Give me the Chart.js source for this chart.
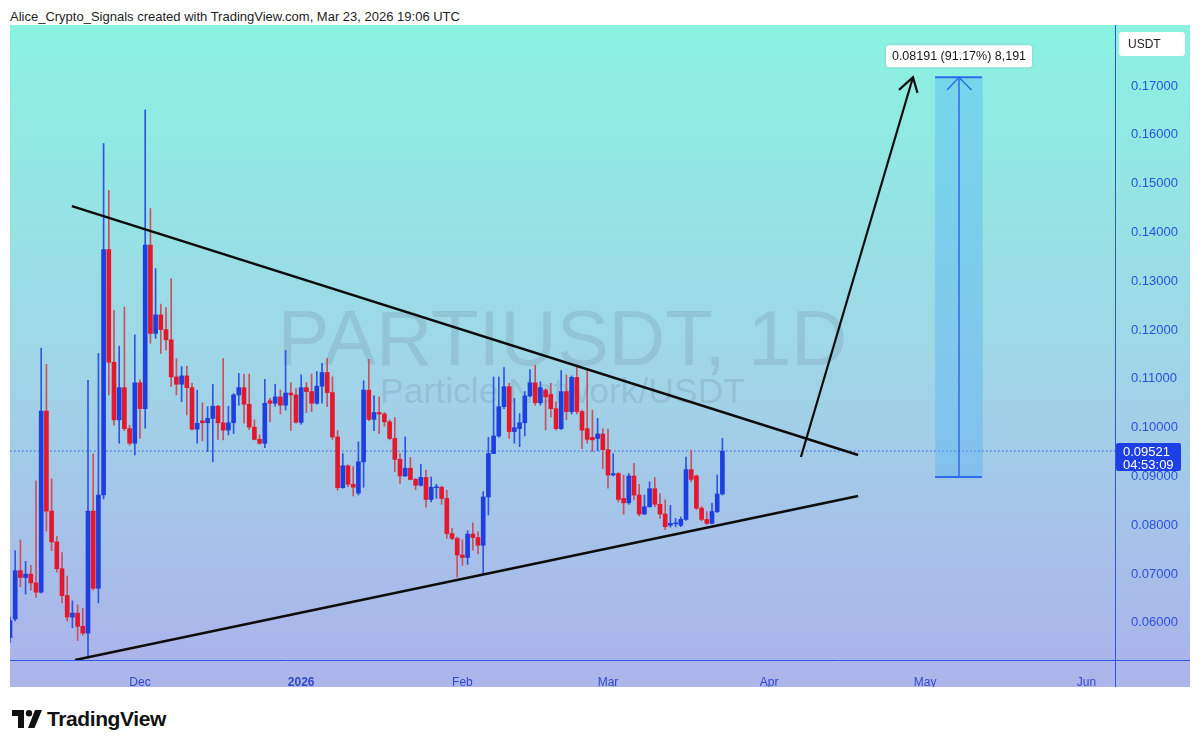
<!DOCTYPE html>
<html>
<head>
<meta charset="utf-8">
<script src="https://cdn.jsdelivr.net/npm/chart.js@4.4.1/dist/chart.umd.min.js"></script>
<style>
  body { margin: 0; background: #fff; width: 1200px; height: 747px; overflow: hidden; position: relative; font-family: Arial, "Liberation Sans", sans-serif; }
  #head { position: absolute; left: 10px; top: 9px; font-size: 13px; color: #1e1e1e; }
  #wrap { position: absolute; left: 10px; top: 25px; }
  #logo { position: absolute; left: 12px; top: 707px; display: flex; align-items: center; }
  #logo span { font-size: 21px; font-weight: bold; color: #111; margin-left: 5px; letter-spacing: -0.4px; }
</style>
</head>
<body>
<div id="head">Alice_Crypto_Signals created with TradingView.com, Mar 23, 2026 19:06 UTC</div>
<div id="wrap"><canvas id="chart" width="1180" height="662"></canvas></div>
<div id="logo">
  <svg width="30" height="18" viewBox="0 0 30 18"><path d="M0 0h12v18H6V6H0z" fill="#111"/><circle cx="17" cy="3.2" r="3.2" fill="#111"/><path d="M23 0h7l-7.5 18h-6.5z" fill="#111"/></svg>
  <span>TradingView</span>
</div>
<script>
// daily candles, day 0 = Nov 6 2025, last = Mar 23 2026
const opens = [
  0.0570, 0.0608, 0.0707, 0.0693, 0.0700, 0.0682, 0.0663, 0.1034, 0.0829, 0.0766,
  0.0711, 0.0656, 0.0612, 0.0620, 0.0593, 0.0579, 0.0829, 0.0671, 0.0862, 0.1365,
  0.1134, 0.1016, 0.1082, 0.0998, 0.0968, 0.1092, 0.1039, 0.1374, 0.1193, 0.1231,
  0.1201, 0.1180, 0.1104, 0.1089, 0.1106, 0.1082, 0.0997, 0.1014, 0.1010, 0.1019,
  0.1044, 0.1010, 0.0995, 0.1010, 0.1067, 0.1082, 0.1048, 0.1001, 0.0976, 0.0968,
  0.1055, 0.1050, 0.1063, 0.1046, 0.1071, 0.1067, 0.1011, 0.1082, 0.1074, 0.1050,
  0.1085, 0.1113, 0.1072, 0.0981, 0.0877, 0.0922, 0.0884, 0.0866, 0.0930, 0.1077,
  0.1017, 0.1031, 0.1028, 0.1012, 0.0978, 0.0935, 0.0901, 0.0917, 0.0894, 0.0882,
  0.0898, 0.0853, 0.0877, 0.0878, 0.0855, 0.0783, 0.0773, 0.0739, 0.0734, 0.0782,
  0.0775, 0.0759, 0.0858, 0.0947, 0.0983, 0.1043, 0.1084, 0.0992, 0.0998, 0.1010,
  0.1065, 0.1092, 0.1051, 0.1077, 0.1068, 0.1039, 0.0998, 0.1074, 0.1033, 0.1103,
  0.1033, 0.0998, 0.0980, 0.0978, 0.0987, 0.0955, 0.0903, 0.0906, 0.0855, 0.0846,
  0.0901, 0.0862, 0.0823, 0.0838, 0.0875, 0.0843, 0.0823, 0.0800, 0.0803, 0.0800,
  0.0812, 0.0914, 0.0901, 0.0835, 0.0812, 0.0804, 0.0828, 0.0864
];
const highs = [
  0.0612, 0.0748, 0.0770, 0.0726, 0.0718, 0.0891, 0.1163, 0.1130, 0.0895, 0.0777,
  0.0744, 0.0696, 0.0645, 0.0637, 0.0630, 0.1097, 0.0946, 0.1152, 0.1582, 0.1486,
  0.1240, 0.1167, 0.1247, 0.1005, 0.1190, 0.1098, 0.1651, 0.1449, 0.1326, 0.1253,
  0.1246, 0.1305, 0.1141, 0.1125, 0.1126, 0.1091, 0.1077, 0.1051, 0.1043, 0.1089,
  0.1046, 0.1142, 0.1044, 0.1070, 0.1111, 0.1110, 0.1110, 0.1016, 0.0985, 0.1099,
  0.1060, 0.1089, 0.1077, 0.1158, 0.1092, 0.1080, 0.1108, 0.1092, 0.1110, 0.1115,
  0.1132, 0.1142, 0.1104, 0.0994, 0.0947, 0.0924, 0.0920, 0.0971, 0.1096, 0.1140,
  0.1065, 0.1063, 0.1031, 0.1016, 0.1021, 0.0947, 0.0981, 0.0939, 0.0896, 0.0925,
  0.0913, 0.0899, 0.0884, 0.0880, 0.0872, 0.0794, 0.0776, 0.0770, 0.0789, 0.0805,
  0.0787, 0.0869, 0.0980, 0.1104, 0.1104, 0.1123, 0.1091, 0.1060, 0.1029, 0.1074,
  0.1119, 0.1128, 0.1094, 0.1080, 0.1091, 0.1053, 0.1117, 0.1108, 0.1106, 0.1128,
  0.1036, 0.1120, 0.1036, 0.1019, 0.0998, 0.0997, 0.0947, 0.0908, 0.0903, 0.0906,
  0.0927, 0.0884, 0.0862, 0.0889, 0.0898, 0.0865, 0.0852, 0.0841, 0.0814, 0.0817,
  0.0940, 0.0954, 0.0903, 0.0839, 0.0828, 0.0845, 0.0903, 0.0978
];
const lows = [
  0.0560, 0.0604, 0.0674, 0.0659, 0.0667, 0.0652, 0.0661, 0.0788, 0.0748, 0.0704,
  0.0641, 0.0604, 0.0590, 0.0564, 0.0575, 0.0528, 0.0667, 0.0641, 0.0854, 0.1067,
  0.1005, 0.0968, 0.0994, 0.0964, 0.0944, 0.0978, 0.0999, 0.1173, 0.1183, 0.1152,
  0.1159, 0.1084, 0.1067, 0.1053, 0.1026, 0.0995, 0.0968, 0.0973, 0.0951, 0.0930,
  0.0976, 0.0975, 0.0985, 0.0988, 0.1046, 0.1009, 0.0996, 0.0975, 0.0966, 0.0959,
  0.1012, 0.1044, 0.1028, 0.1036, 0.0994, 0.1009, 0.1007, 0.1031, 0.1033, 0.1048,
  0.1050, 0.1043, 0.0976, 0.0872, 0.0876, 0.0879, 0.0860, 0.0862, 0.0878, 0.1014,
  0.0994, 0.0988, 0.1003, 0.0975, 0.0910, 0.0886, 0.0900, 0.0893, 0.0873, 0.0880,
  0.0837, 0.0848, 0.0855, 0.0843, 0.0773, 0.0770, 0.0694, 0.0718, 0.0720, 0.0749,
  0.0742, 0.0698, 0.0821, 0.0947, 0.0980, 0.1039, 0.0978, 0.0968, 0.0961, 0.0983,
  0.1063, 0.1046, 0.1046, 0.0995, 0.1022, 0.0995, 0.0996, 0.1016, 0.1028, 0.1028,
  0.0957, 0.0968, 0.0951, 0.0953, 0.0916, 0.0876, 0.0901, 0.0848, 0.0823, 0.0843,
  0.0852, 0.0819, 0.0822, 0.0837, 0.0838, 0.0814, 0.0791, 0.0796, 0.0797, 0.0797,
  0.0810, 0.0889, 0.0832, 0.0809, 0.0802, 0.0803, 0.0826, 0.0862
];
const closes = [
  0.0605, 0.0707, 0.0693, 0.0700, 0.0682, 0.0663, 0.1034, 0.0829, 0.0766, 0.0711,
  0.0656, 0.0612, 0.0620, 0.0593, 0.0579, 0.0829, 0.0671, 0.0862, 0.1365, 0.1134,
  0.1016, 0.1082, 0.0998, 0.0968, 0.1092, 0.1039, 0.1374, 0.1193, 0.1231, 0.1201,
  0.1180, 0.1104, 0.1089, 0.1106, 0.1082, 0.0997, 0.1009, 0.1010, 0.1019, 0.1044,
  0.1010, 0.0995, 0.1010, 0.1067, 0.1082, 0.1048, 0.1001, 0.0976, 0.0968, 0.1050,
  0.1050, 0.1063, 0.1046, 0.1071, 0.1067, 0.1011, 0.1082, 0.1074, 0.1050, 0.1085,
  0.1113, 0.1072, 0.0981, 0.0877, 0.0922, 0.0884, 0.0878, 0.0930, 0.1077, 0.1017,
  0.1031, 0.1028, 0.1012, 0.0978, 0.0935, 0.0901, 0.0917, 0.0894, 0.0882, 0.0898,
  0.0853, 0.0878, 0.0878, 0.0855, 0.0783, 0.0773, 0.0739, 0.0734, 0.0782, 0.0775,
  0.0759, 0.0858, 0.0947, 0.0983, 0.1043, 0.1084, 0.0992, 0.1000, 0.1010, 0.1065,
  0.1092, 0.1051, 0.1082, 0.1063, 0.1039, 0.0998, 0.1074, 0.1033, 0.1103, 0.1033,
  0.0995, 0.0976, 0.0975, 0.0987, 0.0955, 0.0903, 0.0906, 0.0853, 0.0846, 0.0901,
  0.0862, 0.0823, 0.0838, 0.0875, 0.0843, 0.0823, 0.0797, 0.0804, 0.0805, 0.0812,
  0.0914, 0.0894, 0.0835, 0.0812, 0.0804, 0.0828, 0.0864, 0.0952
];

const monthTicks = [25, 56, 87, 115, 146, 176, 207];
const monthLabels = ['Dec', '2026', 'Feb', 'Mar', 'Apr', 'May', 'Jun'];
const priceTicks = [0.06, 0.07, 0.08, 0.09, 0.10, 0.11, 0.12, 0.13, 0.14, 0.15, 0.16, 0.17];
const lastPrice = 0.09521;
const countdown = '04:53:09';

// drawings, in [day, price]
const upperTrend = [[11.9, 0.1454], [163.1, 0.0944]];
const lowerTrend = [[12.5, 0.0524], [163.1, 0.0860]];
const arrowPath = [[152.1, 0.0940], [173.65, 0.1718]];
const arrowHead = [[170.96, 0.1692], [173.65, 0.1718], [174.52, 0.1686]];
const targetDay = 182.5;
const targetRange = [0.0899, 0.1718];
const targetEdges = [177.9, 186.9];
const targetHead = [[180.2, 0.1692], [182.5, 0.1718], [184.9, 0.1692]];
const targetLabel = '0.08191 (91.17%) 8,191';

const UP = '#1f3ee0', DOWN = '#e5172d', UP_WICK = '#2b55e2', DOWN_WICK = '#c9505e';
const AXIS = '#2f55e8';

const days = opens.map((_, i) => i);
const isUp = closes.map((c, i) => c >= opens[i]);
const pts = arr => arr.map(p => ({ x: p[0], y: p[1] }));

const decor = {
  id: 'decor',
  beforeDraw(chart) {
    const { ctx, chartArea, width, height } = chart;
    const g = ctx.createLinearGradient(0, 0, 0, chartArea.bottom);
    g.addColorStop(0, '#8af2e1');
    g.addColorStop(0.5, '#9ed8e6');
    g.addColorStop(1, '#abb4ea');
    ctx.save();
    ctx.fillStyle = g;
    ctx.fillRect(0, 0, width, chartArea.bottom);
    ctx.fillStyle = '#acb6ea';
    ctx.fillRect(0, chartArea.bottom, width, height - chartArea.bottom);
    ctx.restore();
  },
  beforeDatasetsDraw(chart) {
    const { ctx, chartArea } = chart;
    const cx = (chartArea.left + chartArea.right) / 2;
    ctx.save();
    ctx.fillStyle = 'rgba(100, 120, 145, 0.2)';
    ctx.textAlign = 'center';
    ctx.textBaseline = 'alphabetic';
    ctx.font = '100px "Liberation Sans", Arial';
    let w = ctx.measureText('PARTIUSDT, 1D').width;
    ctx.font = (100 * 570 / w).toFixed(1) + 'px "Liberation Sans", Arial';
    ctx.fillText('PARTIUSDT, 1D', cx, chartArea.top + 340);
    ctx.font = '100px "Liberation Sans", Arial';
    w = ctx.measureText('Particle Network/USDT').width;
    ctx.font = (100 * 365 / w).toFixed(1) + 'px "Liberation Sans", Arial';
    ctx.fillText('Particle Network/USDT', cx, chartArea.top + 378);
    ctx.restore();
  },
  afterDraw(chart) {
    const { ctx, chartArea, width, height, scales } = chart;
    const r = chartArea.right, b = chartArea.bottom;
    ctx.save();
    // axis lines running through the scale strips
    ctx.strokeStyle = AXIS;
    ctx.lineWidth = 1;
    ctx.beginPath();
    ctx.moveTo(r, b + 0.5); ctx.lineTo(width, b + 0.5);
    ctx.moveTo(r + 0.5, 0); ctx.lineTo(r + 0.5, height);
    ctx.stroke();

    // USDT box
    ctx.fillStyle = '#fff';
    ctx.beginPath();
    ctx.roundRect(r + 4, chartArea.top + 7, 66, 24, 3);
    ctx.fill();
    ctx.fillStyle = '#222';
    ctx.font = '12px "Liberation Sans", Arial';
    ctx.textBaseline = 'middle';
    ctx.fillText('USDT', r + 13, chartArea.top + 19.5);

    // last price tag
    const py = scales.y.getPixelForValue(lastPrice);
    ctx.fillStyle = '#1d3fe6';
    ctx.beginPath();
    ctx.roundRect(r + 1, py - 8, 65, 28, 2);
    ctx.fill();
    ctx.fillStyle = '#fff';
    ctx.font = '13px "Liberation Sans", Arial';
    ctx.fillText(lastPrice.toFixed(5), r + 8, py + 1.5);
    ctx.fillText(countdown, r + 8, py + 14);

    // measurement label
    const mx = scales.x.getPixelForValue(targetDay);
    const my = scales.y.getPixelForValue(targetRange[1]);
    ctx.font = '12.5px "Liberation Sans", Arial';
    const tw = ctx.measureText(targetLabel).width + 12;
    ctx.fillStyle = '#fff';
    ctx.shadowColor = 'rgba(0,0,0,0.15)';
    ctx.shadowBlur = 3;
    ctx.beginPath();
    ctx.roundRect(mx - tw / 2, my - 32, tw, 22, 3);
    ctx.fill();
    ctx.shadowBlur = 0;
    ctx.fillStyle = '#151515';
    ctx.textAlign = 'center';
    ctx.fillText(targetLabel, mx, my - 20.5);
    ctx.restore();
  }
};

const lineDs = (data, color, width, order, extra) => Object.assign({
  type: 'line', data: data, borderColor: color, borderWidth: width,
  pointRadius: 0, tension: 0, fill: false, order: order
}, extra || {});

new Chart(document.getElementById('chart'), {
  type: 'bar',
  data: {
    datasets: [
      lineDs(pts(upperTrend), '#0d0d0d', 2.5, 1),
      lineDs(pts(lowerTrend), '#0d0d0d', 2.5, 1),
      lineDs(pts(arrowPath), '#0d0d0d', 2.2, 1),
      lineDs(pts(arrowHead), '#0d0d0d', 2.2, 1),
      lineDs([{ x: targetEdges[0], y: targetRange[1] }, { x: targetEdges[1], y: targetRange[1] }], '#2f6ae8', 2, 2),
      lineDs([{ x: targetEdges[0], y: targetRange[0] }, { x: targetEdges[1], y: targetRange[0] }], '#2f6ae8', 2, 2),
      lineDs([{ x: targetDay, y: targetRange[0] }, { x: targetDay, y: targetRange[1] }], '#2f6ae8', 1.5, 2),
      lineDs(pts(targetHead), '#2f6ae8', 1.5, 2),
      {
        type: 'bar',
        data: days.map(i => ({ x: i, y: [opens[i], closes[i]] })),
        backgroundColor: isUp.map(u => u ? UP : DOWN),
        barThickness: 4, grouped: false, minBarLength: 1, borderWidth: 0, order: 3
      },
      {
        type: 'bar',
        data: days.map(i => ({ x: i, y: [lows[i], highs[i]] })),
        backgroundColor: isUp.map(u => u ? UP_WICK : DOWN_WICK),
        barThickness: 1, grouped: false, borderWidth: 0, order: 4
      },
      {
        type: 'bar',
        data: [{ x: targetDay, y: targetRange }],
        backgroundColor: 'rgba(80, 175, 248, 0.38)',
        barThickness: 47, grouped: false, borderWidth: 0, order: 5
      },
      lineDs([{ x: 0, y: lastPrice }, { x: 212.5, y: lastPrice }], '#2c54e6', 1, 6, { borderDash: [1.5, 2.5] })
    ]
  },
  options: {
    responsive: false,
    devicePixelRatio: 1,
    animation: false,
    layout: { padding: 0 },
    plugins: { legend: { display: false }, tooltip: { enabled: false } },
    scales: {
      x: {
        type: 'linear',
        min: 0,
        max: 212.5,
        offset: false,
        grid: { display: false },
        border: { display: true, color: AXIS, width: 1 },
        afterBuildTicks: scale => { scale.ticks = monthTicks.map(v => ({ value: v })); },
        afterFit: scale => { scale.height = 27; scale.paddingLeft = 0; scale.paddingRight = 0; },
        ticks: {
          autoSkip: false,
          maxRotation: 0,
          padding: 7,
          color: '#3447c8',
          font: ctx => ({ size: 12, family: '"Liberation Sans", Arial', weight: ctx.tick && ctx.tick.value === 56 ? 'bold' : 'normal' }),
          callback: v => monthLabels[monthTicks.indexOf(v)]
        }
      },
      y: {
        position: 'right',
        min: 0.0524,
        max: 0.1825,
        grid: { display: false },
        border: { display: true, color: AXIS, width: 1 },
        afterBuildTicks: scale => { scale.ticks = priceTicks.map(v => ({ value: v })); },
        afterFit: scale => { scale.width = 75; scale.paddingTop = 0; scale.paddingBottom = 0; },
        ticks: {
          padding: 8,
          color: '#2a52d9',
          font: { size: 13, family: '"Liberation Sans", Arial' },
          callback: v => v.toFixed(5)
        }
      }
    }
  },
  plugins: [decor]
});
</script>
</body>
</html>
